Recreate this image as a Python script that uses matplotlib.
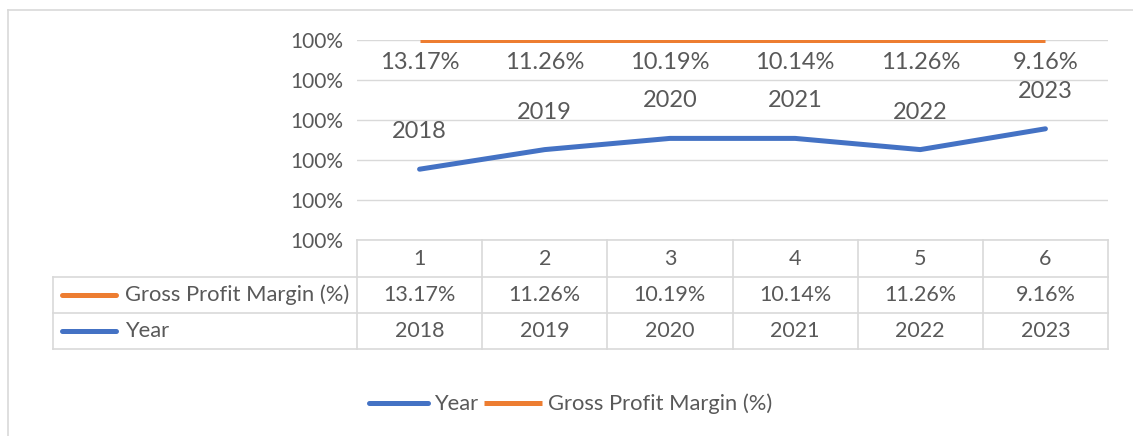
import matplotlib
matplotlib.use("Agg")
import matplotlib.pyplot as plt
import matplotlib.transforms as mtransforms

plt.rcParams["font.family"] = ["Lato", "DejaVu Sans"]

# data
positions = [1, 2, 3, 4, 5, 6]
years = [2018, 2019, 2020, 2021, 2022, 2023]
gpm_labels = ["13.17%", "11.26%", "10.19%", "10.14%", "11.26%", "9.16%"]
# line levels as drawn in the picture (axis units, gridlines 0..5)
year_level = [1.77, 2.26, 2.54, 2.54, 2.26, 2.78]
gpm_level = [5, 5, 5, 5, 5, 5]
ytick_labels = ["100%"] * 6

BLUE = "#4472C4"
ORANGE = "#ED7D31"
GRID = "#D9D9D9"
TXT = "#595959"

W, H = 1133, 436
fig = plt.figure(figsize=(W / 100, H / 100), dpi=100)

# background axes in pixel units for the data table
bg = fig.add_axes([0, 0, 1, 1])
bg.set_xlim(0, W)
bg.set_ylim(H, 0)
bg.axis("off")

# chart border (only top and left are inside the crop)
bg.plot([8, W], [10, 10], color="#D9D9D9", lw=1.2)
bg.plot([8, 8], [10, H], color="#D9D9D9", lw=1.2)

L, R, T, B = 357, 1108, 40, 240
ax = fig.add_axes([L / W, 1 - B / H, (R - L) / W, (B - T) / H])
ax.set_xlim(0.5, 6.5)
ax.set_ylim(0, 5)
ax.set_yticks(range(6))
ax.set_yticklabels(ytick_labels, fontsize=15, color=TXT)
ax.set_xticks([])
ax.tick_params(axis="y", length=0, pad=10)
for s in ax.spines.values():
    s.set_visible(False)
ax.patch.set_alpha(0)
ax.grid(axis="y", color=GRID, lw=1)
ax.set_axisbelow(True)

l_year, = ax.plot(positions, year_level, color=BLUE, lw=3.6, solid_capstyle="round", label="Year")
l_gpm, = ax.plot(positions, gpm_level, color=ORANGE, lw=3.6, solid_capstyle="butt", label="Gross Profit Margin (%)")

for x, y, t in zip(positions, year_level, years):
    ax.annotate(str(t), (x, y), xytext=(0, 27), textcoords="offset points",
                ha="center", va="center", fontsize=17, color=TXT, annotation_clip=False)
for x, y, t in zip(positions, gpm_level, gpm_labels):
    ax.annotate(t, (x, y), xytext=(0, -16), textcoords="offset points",
                ha="center", va="center", fontsize=17, color=TXT, annotation_clip=False)

# data table
rows = [240, 277, 313, 349]
tl = 53
step = (R - L) / 6
bounds = [L + i * step for i in range(7)]
lk = dict(color=GRID, lw=1.2)
bg.plot([L, R], [rows[0], rows[0]], **lk)
for y in rows[1:]:
    bg.plot([tl, R], [y, y], **lk)
bg.plot([tl, tl], [rows[1], rows[3]], **lk)
for x in bounds:
    bg.plot([x, x], [rows[0], rows[3]], **lk)

tr = mtransforms.blended_transform_factory(ax.transData, bg.transData)
mid = [(rows[i] + rows[i + 1]) / 2 for i in range(3)]
for i, p in enumerate(positions):
    bg.text(p, mid[0], str(p), transform=tr, ha="center", va="center", fontsize=15.5, color=TXT)
    bg.text(p, mid[1], gpm_labels[i], transform=tr, ha="center", va="center", fontsize=15.5, color=TXT)
    bg.text(p, mid[2], str(years[i]), transform=tr, ha="center", va="center", fontsize=15.5, color=TXT)

bg.plot([62, 116], [mid[1], mid[1]], color=ORANGE, lw=3.6, solid_capstyle="round")
bg.plot([62, 116], [mid[2], mid[2]], color=BLUE, lw=3.6, solid_capstyle="round")
bg.text(125, mid[1], "Gross Profit Margin (%)", ha="left", va="center", fontsize=15.8, color=TXT)
bg.text(125, mid[2], "Year", ha="left", va="center", fontsize=15.8, color=TXT)

leg = fig.legend(handles=[l_year, l_gpm], loc="center", bbox_to_anchor=(571 / W, 1 - 404 / H),
                 ncol=2, frameon=False, fontsize=15.8, handlelength=2.65, handletextpad=0.28,
                 columnspacing=0.28, labelcolor=TXT)

fig.savefig("out.png", dpi=100)
